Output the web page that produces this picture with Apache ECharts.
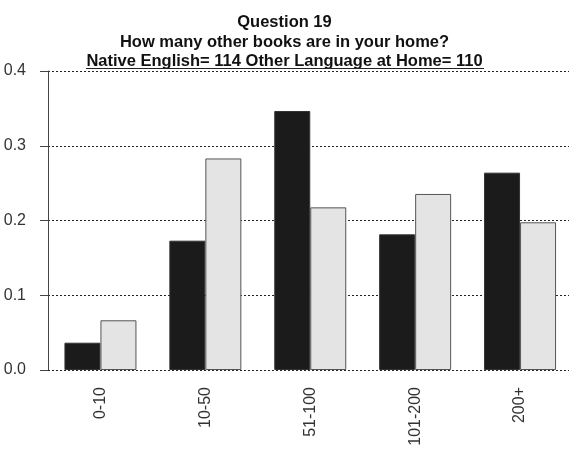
<!DOCTYPE html>
<html><head><meta charset="utf-8">
<script src="https://cdn.jsdelivr.net/npm/echarts@6/dist/echarts.min.js"></script>
<style>html,body{margin:0;padding:0;background:#fff;overflow:hidden}#c{width:569px;height:449px}</style>
</head><body><div id="c"></div>
<script>
const categories = ['0-10', '10-50', '51-100', '101-200', '200+'];
const nativeEnglish = [0.0365, 0.173, 0.3465, 0.1815, 0.264];
const otherLanguage = [0.0665, 0.283, 0.2176, 0.2355, 0.1976];
const yTicks = [0, 0.1, 0.2, 0.3, 0.4];
const titleLines = ['Question 19', 'How many other books are in your home?', 'Native English= 114 Other Language at Home= 110'];

const chart = echarts.init(document.getElementById('c'), null, {renderer: 'canvas'});
chart.setOption({
  animation: false,
  backgroundColor: '#fff',
  title: {
    text: titleLines.join('\n'),
    left: 'center', top: 8,
    textStyle: {fontFamily: 'Liberation Sans, Arial, sans-serif', fontWeight: 'bold', fontSize: 16.5, lineHeight: 19.5, color: '#111'}
  },
  graphic: [{type: 'line', shape: {x1: 86, y1: 68.5, x2: 484, y2: 68.5}, style: {stroke: '#222', lineWidth: 1}, z: 100}],
  grid: {left: 48, width: 524.5, top: 71, bottom: 79, outerBoundsMode: 'none', containLabel: false},
  xAxis: {
    type: 'category', data: categories,
    axisLine: {show: false}, axisTick: {show: false},
    axisLabel: {rotate: 90, margin: 17, fontFamily: 'Liberation Sans, Arial, sans-serif', fontSize: 16, color: '#333'}
  },
  yAxis: {
    type: 'value', min: 0, max: 0.4, interval: 0.1,
    axisLine: {show: true, lineStyle: {color: '#444', width: 1}},
    axisTick: {show: true, length: 8, lineStyle: {color: '#444'}},
    axisLabel: {margin: 22, fontFamily: 'Liberation Sans, Arial, sans-serif', fontSize: 16, color: '#333',
      formatter: v => yTicks.includes(Math.round(v*10)/10) ? v.toFixed(1) : ''},
    splitLine: {show: true, lineStyle: {color: '#222', type: [2, 2], width: 1}}
  },
  series: [
    {name: 'Native English', type: 'bar', data: nativeEnglish, barWidth: 36, barGap: '0%',
     itemStyle: {color: '#1b1b1b', borderColor: '#333', borderWidth: 1}, z: 3},
    {name: 'Other Language at Home', type: 'bar', data: otherLanguage, barWidth: 36,
     itemStyle: {color: '#e4e4e4', borderColor: '#555', borderWidth: 1}, z: 3}
  ]
});
</script></body></html>
